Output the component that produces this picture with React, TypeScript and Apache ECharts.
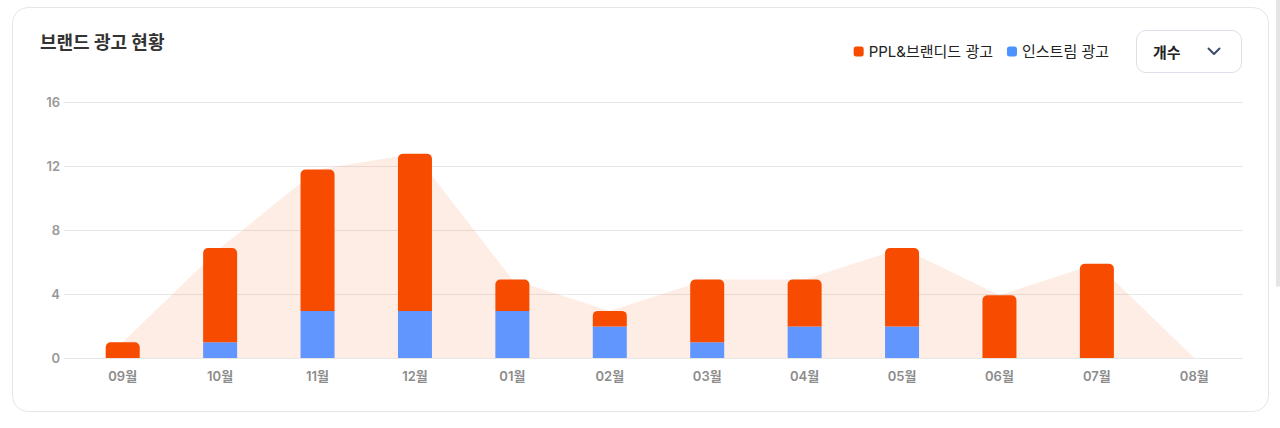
import { useEffect, useRef } from 'react'
import * as echarts from 'echarts'

const months = ['09월', '10월', '11월', '12월', '01월', '02월', '03월', '04월', '05월', '06월', '07월', '08월']
const pplValues = [1, 6, 9, 10, 2, 1, 4, 3, 5, 4, 6, 0]
const instreamValues = [0, 1, 3, 3, 3, 2, 1, 2, 2, 0, 0, 0]
const totalValues = [1, 7, 12, 13, 5, 3, 5, 5, 7, 4, 6, 0]
const yTicks = [0, 4, 8, 12, 16]

const FONT = "Inter, 'Noto Sans CJK KR', sans-serif"
const ORANGE = '#f74b00'
const BLUE = '#6196ff'

export default function App() {
  const chartRef = useRef<HTMLDivElement>(null)

  useEffect(() => {
    document.body.style.margin = '0'
    if (!chartRef.current) return
    const chart = echarts.init(chartRef.current, null, { renderer: 'svg' })

    const option: echarts.EChartsOption = {
      animation: false,
      textStyle: { fontFamily: FONT },
      title: {
        text: '브랜드 광고 현황',
        left: 40,
        top: 33,
        padding: 0,
        textStyle: { fontSize: 18, fontWeight: 'bold', color: '#333', fontFamily: FONT },
      },
      legend: {
        right: 171,
        top: 44,
        padding: 0,
        itemWidth: 10,
        itemHeight: 10,
        itemGap: 14,
        icon: 'roundRect',
        textStyle: { fontSize: 15, color: '#222', fontFamily: FONT },
        data: [
          { name: 'PPL&브랜디드 광고', itemStyle: { color: ORANGE } },
          { name: '인스트림 광고', itemStyle: { color: '#4b94ff' } },
        ],
      },
      grid: [
        { left: 64, right: 37, top: 102, bottom: 70 },
        { left: 74, right: 37, top: 102, bottom: 70 },
      ],
      xAxis: [
        { type: 'category', gridIndex: 0, data: months, show: false },
        {
          type: 'category',
          gridIndex: 1,
          data: months,
          axisLine: { show: false },
          axisTick: { show: false },
          axisLabel: {
            margin: 11,
            fontSize: 13,
            fontWeight: 600,
            color: '#8c8c8c',
            fontFamily: FONT,
          },
        },
      ],
      yAxis: [
        {
          type: 'value',
          gridIndex: 0,
          min: yTicks[0],
          max: yTicks[yTicks.length - 1],
          interval: 4,
          axisLine: { show: false },
          axisTick: { show: false },
          splitLine: { lineStyle: { color: '#e8e8e8', width: 1 } },
          axisLabel: {
            margin: 4,
            fontSize: 13,
            fontWeight: 600,
            color: '#999',
            fontFamily: FONT,
          },
        },
        {
          type: 'value',
          gridIndex: 1,
          min: 0,
          max: 16.3,
          show: false,
          splitLine: { show: false },
        },
      ],
      series: [
        {
          name: '합계',
          type: 'line',
          xAxisIndex: 1,
          yAxisIndex: 1,
          data: totalValues,
          symbol: 'none',
          lineStyle: { width: 0 },
          areaStyle: { color: 'rgba(247,74,0,0.1)', opacity: 1 },
          z: 1,
          silent: true,
        },
        {
          name: '인스트림 광고',
          type: 'bar',
          xAxisIndex: 1,
          yAxisIndex: 1,
          stack: 'ads',
          barWidth: 34,
          data: instreamValues,
          itemStyle: { color: BLUE },
          z: 3,
        },
        {
          name: 'PPL&브랜디드 광고',
          type: 'bar',
          xAxisIndex: 1,
          yAxisIndex: 1,
          stack: 'ads',
          barWidth: 34,
          data: pplValues,
          itemStyle: { color: ORANGE, borderRadius: [5, 5, 0, 0] },
          z: 3,
        },
      ],
    }

    chart.setOption(option)
    return () => {
      chart.dispose()
    }
  }, [])

  return (
    <div style={{ position: 'relative', width: 1280, height: 428, background: '#fff', overflow: 'hidden' }}>
      <div
        style={{
          position: 'absolute',
          left: 12,
          top: 7,
          width: 1257,
          height: 405,
          boxSizing: 'border-box',
          border: '1px solid #e6e6e6',
          borderRadius: 16,
        }}
      />
      <div
        style={{
          position: 'absolute',
          left: 1276,
          top: 0,
          width: 4,
          height: 287,
          background: '#e5e5e5',
          borderRadius: '0 0 3px 3px',
        }}
      />
      <div ref={chartRef} style={{ position: 'absolute', left: 0, top: 0, width: 1280, height: 428 }} />
      <div
        style={{
          position: 'absolute',
          left: 1136,
          top: 30,
          width: 106,
          height: 43,
          boxSizing: 'border-box',
          border: '1px solid #dde0ea',
          borderRadius: 10,
          background: '#fff',
          display: 'flex',
          alignItems: 'center',
          justifyContent: 'space-between',
          padding: '0 20px 0 16px',
          fontFamily: FONT,
          fontSize: 15,
          fontWeight: 700,
          color: '#222',
        }}
      >
        <span>개수</span>
        <svg width="14" height="9" viewBox="0 0 14 9">
          <polyline points="1.5,1.5 7,7 12.5,1.5" fill="none" stroke="#3d4a6b" strokeWidth="2" strokeLinecap="round" strokeLinejoin="round" />
        </svg>
      </div>
    </div>
  )
}
